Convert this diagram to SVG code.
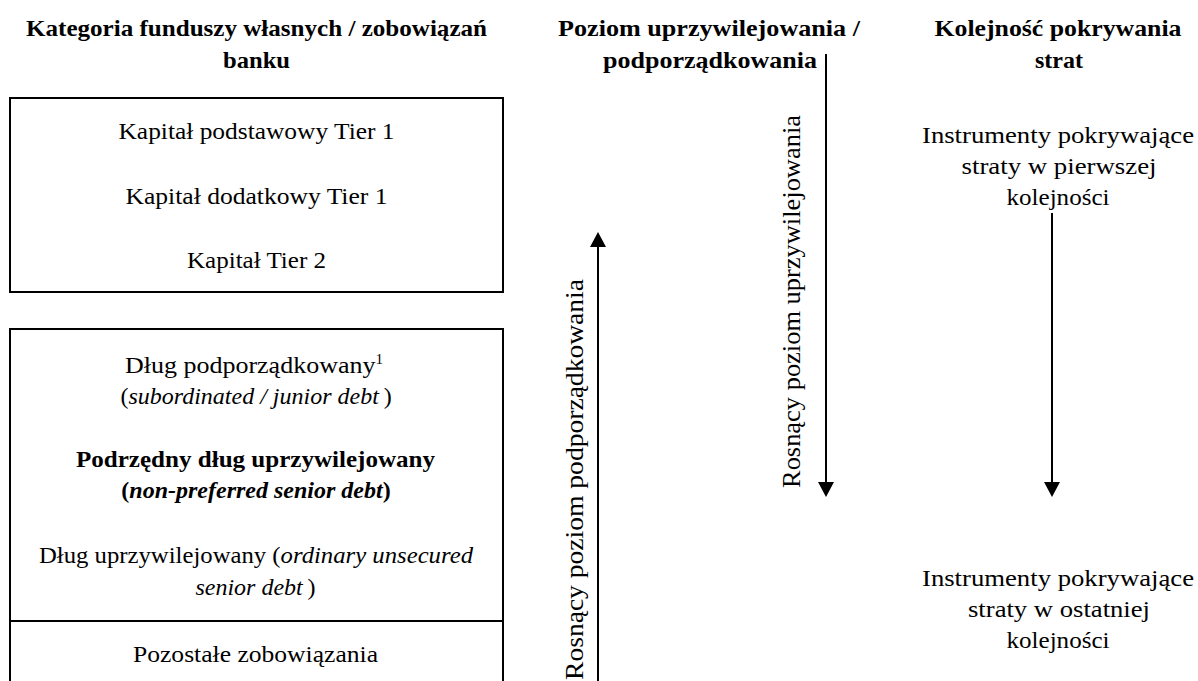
<svg xmlns="http://www.w3.org/2000/svg" width="1198" height="681" viewBox="0 0 1198 681">
<style>
text { font-family: "Liberation Serif", "DejaVu Serif", serif; font-size: 24px; fill: #000; }
.b { font-weight: bold; }
.c { text-anchor: middle; }
.i { font-style: italic; }
.box { fill: none; stroke: #000; stroke-width: 2; }
.ln { fill: none; stroke: #000; stroke-width: 2; }
.v { font-size: 25px; }
</style>
<defs>
<marker id="ah" viewBox="0 0 15 16" refX="5" refY="8" markerWidth="15" markerHeight="16" markerUnits="userSpaceOnUse" orient="auto">
<path d="M0,0 L15,8 L0,16 z" fill="#000"/>
</marker>
</defs>
<rect width="1198" height="681" fill="#fff"/>

<g id="headers">
<text class="b c" x="256.5" y="36" textLength="461" lengthAdjust="spacingAndGlyphs">Kategoria funduszy własnych / zobowiązań</text>
<text class="b c" x="256.5" y="68" textLength="67" lengthAdjust="spacingAndGlyphs">banku</text>
<text class="b c" x="709" y="36" textLength="302" lengthAdjust="spacingAndGlyphs">Poziom uprzywilejowania /</text>
<text class="b c" x="710" y="68" textLength="214" lengthAdjust="spacingAndGlyphs">podporządkowania</text>
<text class="b c" x="1058" y="36" textLength="247" lengthAdjust="spacingAndGlyphs">Kolejność pokrywania</text>
<text class="b c" x="1059" y="68" textLength="48" lengthAdjust="spacingAndGlyphs">strat</text>
</g>

<g id="own-funds">
<rect class="box" x="10" y="98" width="493" height="194"/>
<text class="c" x="256.5" y="139" textLength="276" lengthAdjust="spacingAndGlyphs">Kapitał podstawowy Tier 1</text>
<text class="c" x="256.5" y="204" textLength="262" lengthAdjust="spacingAndGlyphs">Kapitał dodatkowy Tier 1</text>
<text class="c" x="256.5" y="268" textLength="139" lengthAdjust="spacingAndGlyphs">Kapitał Tier 2</text>
</g>

<g id="debt">
<path class="box" d="M10,690 L10,329 L503,329 L503,690"/>
<text x="125" y="373" textLength="258" lengthAdjust="spacingAndGlyphs">Dług podporządkowany<tspan font-size="14" dy="-9">1</tspan></text>
<text class="c" x="256" y="404" font-size="25">(<tspan class="i">subordinated / junior debt</tspan>&#8201;)</text>
<text class="b" x="76" y="467" textLength="359" lengthAdjust="spacingAndGlyphs">Podrzędny dług uprzywilejowany</text>
<text class="b c" x="256" y="498" font-size="25">(<tspan class="i">non-preferred senior debt</tspan>)</text>
<text x="39" y="563" textLength="434" lengthAdjust="spacingAndGlyphs">Dług uprzywilejowany (<tspan class="i">ordinary unsecured</tspan></text>
<text class="c" x="255.5" y="595" font-size="25"><tspan class="i">senior debt</tspan>&#8201;)</text>
</g>

<g id="other-liabilities">
<line class="ln" x1="10" y1="621" x2="503" y2="621"/>
<text class="c" x="255.5" y="662" textLength="245" lengthAdjust="spacingAndGlyphs">Pozostałe zobowiązania</text>
</g>

<g id="first-loss">
<text class="c" x="1058" y="143" textLength="272" lengthAdjust="spacingAndGlyphs">Instrumenty pokrywające</text>
<text class="c" x="1059" y="174" textLength="195" lengthAdjust="spacingAndGlyphs">straty w pierwszej</text>
<text class="c" x="1058" y="205" textLength="103" lengthAdjust="spacingAndGlyphs">kolejności</text>
</g>

<g id="last-loss">
<text class="c" x="1058" y="586" textLength="272" lengthAdjust="spacingAndGlyphs">Instrumenty pokrywające</text>
<text class="c" x="1059" y="617" textLength="182" lengthAdjust="spacingAndGlyphs">straty w ostatniej</text>
<text class="c" x="1058" y="648" textLength="103" lengthAdjust="spacingAndGlyphs">kolejności</text>
</g>

<g id="axis-labels">
<text class="v" font-size="26" transform="translate(583,680) rotate(-90)" textLength="401" lengthAdjust="spacingAndGlyphs">Rosnący poziom podporządkowania</text>
<text class="v" transform="translate(800,488) rotate(-90)" textLength="373" lengthAdjust="spacingAndGlyphs">Rosnący poziom uprzywilejowania</text>
</g>

<g id="connectors">
<line class="ln" x1="598" y1="690" x2="598" y2="242" marker-end="url(#ah)"/>
<line class="ln" x1="826" y1="54" x2="826" y2="487" marker-end="url(#ah)"/>
<line class="ln" x1="1052" y1="213" x2="1052" y2="487" marker-end="url(#ah)"/>
</g>
</svg>
